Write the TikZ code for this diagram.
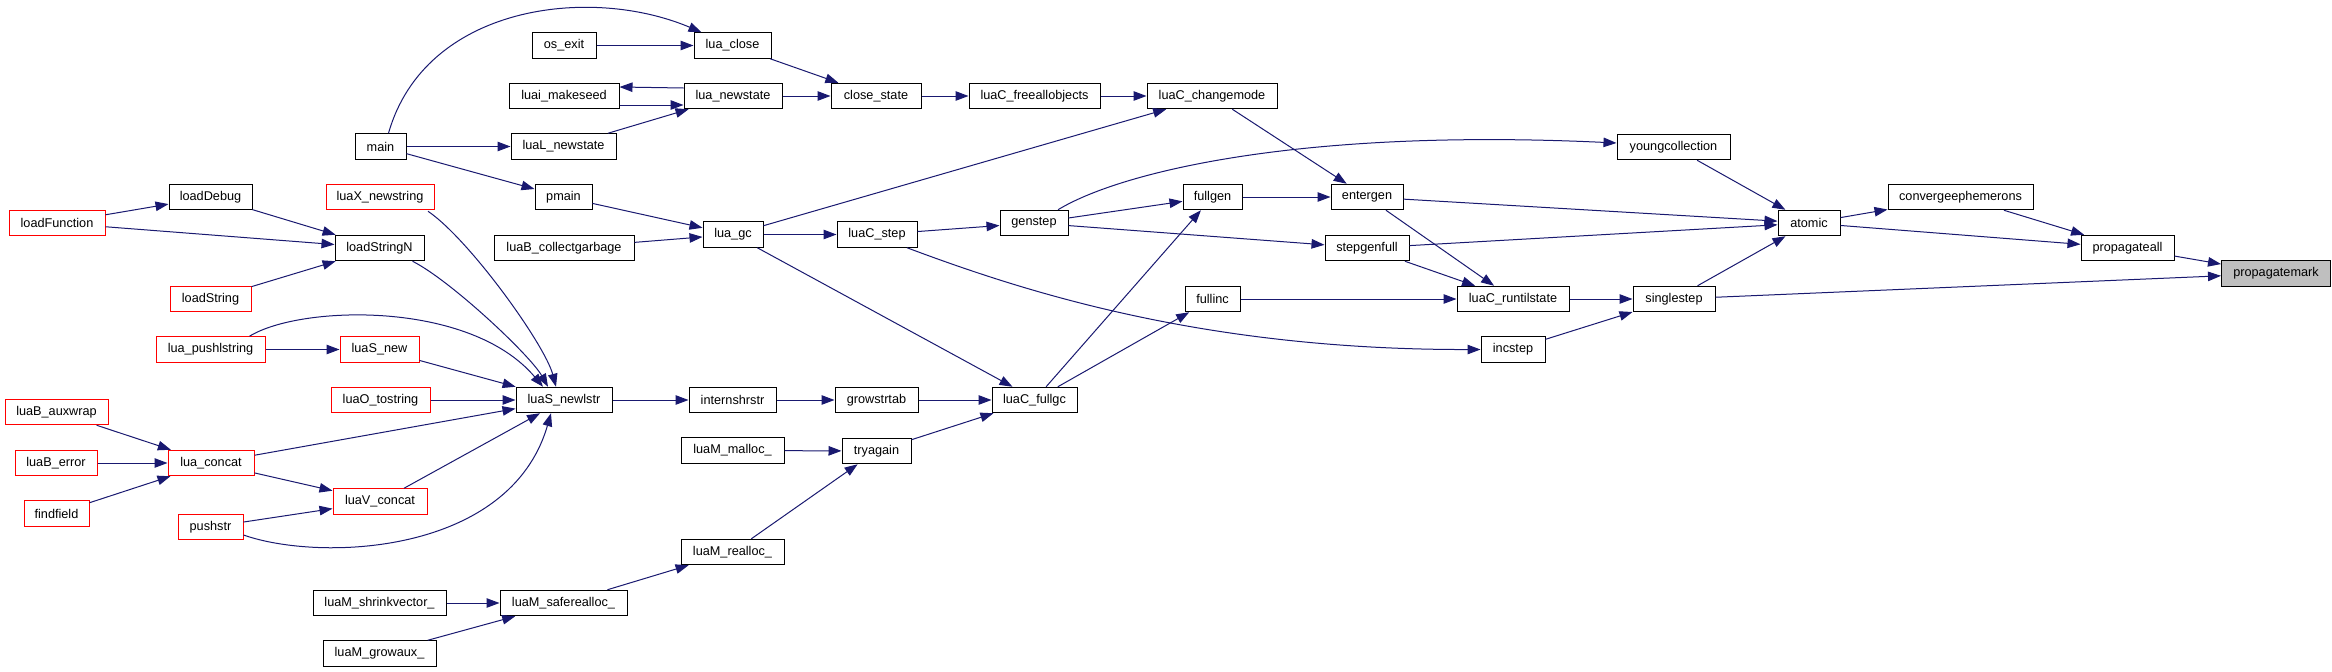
\documentclass[tikz,border=0pt]{standalone}
\usepackage{fontspec}
\setmainfont{Liberation Sans}
\usetikzlibrary{arrows.meta}
\definecolor{edgec}{HTML}{191970}
\definecolor{hl}{HTML}{BFBFBF}
\newcommand\nfs{\fontsize{12.7}{14}\selectfont}
\tikzset{
  nb/.style={draw=black, fill=white, line width=1pt, minimum height=25.5pt, inner sep=0pt, font=\nfs},
  rb/.style={nb, draw=red},
  gb/.style={nb, fill=hl},
  e/.style={draw=edgec, line width=1pt, -{Triangle[length=13pt,width=9.5pt]}},
}
\begin{document}
\begin{tikzpicture}[x=1pt,y=-1pt]
\useasboundingbox[fill=white] (0,0) rectangle (2332,672);
% column 1
\node[rb, minimum width=96pt]  (loadFunction) at (57,223) {loadFunction};
\node[rb, minimum width=103pt] (luaB_auxwrap) at (56.5,412) {luaB\_auxwrap};
\node[rb, minimum width=82pt]  (luaB_error) at (56,463) {luaB\_error};
\node[rb, minimum width=65pt]  (findfield) at (56.5,513.5) {findfield};
% column 2
\node[nb, minimum width=83pt]  (loadDebug) at (210.5,197) {loadDebug};
\node[rb, minimum width=81pt]  (loadString) at (210.5,299) {loadString};
\node[rb, minimum width=109pt] (lua_pushlstring) at (210.5,349.5) {lua\_pushlstring};
\node[rb, minimum width=86pt]  (lua_concat) at (211,463) {lua\_concat};
\node[rb, minimum width=65pt]  (pushstr) at (210.5,527) {pushstr};
% column 3
\node[nb, minimum width=51pt]  (main) at (380.5,146.5) {main};
\node[rb, minimum width=108pt] (luaX_newstring) at (380,197) {luaX\_newstring};
\node[nb, minimum width=89pt]  (loadStringN) at (379.5,248) {loadStringN};
\node[rb, minimum width=79pt]  (luaS_new) at (379.5,349.5) {luaS\_new};
\node[rb, minimum width=99pt]  (luaO_tostring) at (380.5,400) {luaO\_tostring};
\node[rb, minimum width=94pt]  (luaV_concat) at (380,501.5) {luaV\_concat};
\node[nb, minimum width=133pt] (luaM_shrinkvector_) at (379.5,603) {luaM\_shrinkvector\_};
\node[nb, minimum width=113pt] (luaM_growaux_) at (379.5,653.5) {luaM\_growaux\_};
% column 4
\node[nb, minimum width=64pt]  (os_exit) at (564,45.5) {os\_exit};
\node[nb, minimum width=110pt] (luai_makeseed) at (564,96) {luai\_makeseed};
\node[nb, minimum width=105pt] (luaL_newstate) at (563.5,146.5) {luaL\_newstate};
\node[nb, minimum width=57pt]  (pmain) at (563.5,197) {pmain};
\node[nb, minimum width=140pt] (luaB_collectgarbage) at (564,248) {luaB\_collectgarbage};
\node[nb, minimum width=96pt]  (luaS_newlstr) at (564,400) {luaS\_newlstr};
\node[nb, minimum width=127pt] (luaM_saferealloc_) at (563.5,603) {luaM\_saferealloc\_};
% column 5
\node[nb, minimum width=77pt]  (lua_close) at (732.5,45.5) {lua\_close};
\node[nb, minimum width=98pt]  (lua_newstate) at (733,96) {lua\_newstate};
\node[nb, minimum width=60pt]  (lua_gc) at (733,234.5) {lua\_gc};
\node[nb, minimum width=87pt]  (internshrstr) at (732.5,400) {internshrstr};
\node[nb, minimum width=103pt] (luaM_malloc_) at (732.5,450.5) {luaM\_malloc\_};
\node[nb, minimum width=103pt] (luaM_realloc_) at (732.5,552) {luaM\_realloc\_};
% column 6
\node[nb, minimum width=90pt]  (close_state) at (876,96) {close\_state};
\node[nb, minimum width=80pt]  (luaC_step) at (877,234.5) {luaC\_step};
\node[nb, minimum width=83pt]  (growstrtab) at (876.5,400) {growstrtab};
\node[nb, minimum width=69pt]  (tryagain) at (876.5,451) {tryagain};
% column 7
\node[nb, minimum width=131pt] (luaC_freeallobjects) at (1034.5,96) {luaC\_freeallobjects};
\node[nb, minimum width=68pt]  (genstep) at (1034,223) {genstep};
\node[nb, minimum width=85pt]  (luaC_fullgc) at (1034.5,400) {luaC\_fullgc};
% column 8
\node[nb, minimum width=130pt] (luaC_changemode) at (1212,96) {luaC\_changemode};
\node[nb, minimum width=59pt]  (fullgen) at (1212.5,197) {fullgen};
\node[nb, minimum width=55pt]  (fullinc) at (1212.5,299) {fullinc};
% column 9
\node[nb, minimum width=72pt]  (entergen) at (1367,197) {entergen};
\node[nb, minimum width=84pt]  (stepgenfull) at (1367,248) {stepgenfull};
% column 10
\node[nb, minimum width=112pt] (luaC_runtilstate) at (1513,299) {luaC\_runtilstate};
\node[nb, minimum width=64pt]  (incstep) at (1513,349.5) {incstep};
% column 11
\node[nb, minimum width=113pt] (youngcollection) at (1673.5,147) {youngcollection};
\node[nb, minimum width=82pt]  (singlestep) at (1674,299) {singlestep};
% column 12
\node[nb, minimum width=62pt]  (atomic) at (1809,223) {atomic};
% column 13
\node[nb, minimum width=145pt] (convergeephemerons) at (1960.5,197) {convergeephemerons};
% column 14
\node[nb, minimum width=93pt]  (propagateall) at (2127.5,248) {propagateall};
% column 15
\node[gb, minimum width=109pt] (propagatemark) at (2276,273.5) {propagatemark};

% edges
\draw[e] ([xshift=8pt]main.north) .. controls (425,5) and (590,-15) .. ([xshift=-31pt]lua_close.north);
\draw[e] (os_exit) -- (lua_close);
\draw[e] (lua_close) -- (close_state);
\draw[e] ([yshift=8pt]lua_newstate.west) -- ([yshift=9pt]luai_makeseed.east);
\draw[e] ([yshift=-9pt]luai_makeseed.east) -- ([yshift=-9pt]lua_newstate.west);
\draw[e] (luaL_newstate) -- (lua_newstate);
\draw[e] (lua_newstate) -- (close_state);
\draw[e] (close_state) -- (luaC_freeallobjects);
\draw[e] (luaC_freeallobjects) -- (luaC_changemode);
\draw[e] (main) -- (luaL_newstate);
\draw[e] (main) -- (pmain);
\draw[e] (pmain) -- (lua_gc);
\draw[e] (luaB_collectgarbage) -- (lua_gc);
\draw[e] (lua_gc) -- (luaC_changemode);
\draw[e] (lua_gc) -- (luaC_step);
\draw[e] (lua_gc) -- ([xshift=-22pt]luaC_fullgc.north);
\draw[e] (luaC_changemode) -- (entergen);
\draw[e] (luaC_step) -- (genstep);
\draw[e] ([xshift=30pt]luaC_step.south) .. controls (1020,290) and (1200,350) .. (incstep.west);
\draw[e] (genstep) -- (fullgen);
\draw[e] (genstep) -- (stepgenfull);
\draw[e] ([xshift=24pt]genstep.north) .. controls (1120,172) and (1300,128) .. ([yshift=4pt]youngcollection.west);
\draw[e] (fullgen) -- (entergen);
\draw[e] (entergen) -- (atomic);
\draw[e] (entergen) -- (luaC_runtilstate);
\draw[e] (stepgenfull) -- (atomic);
\draw[e] (stepgenfull) -- (luaC_runtilstate);
\draw[e] (luaC_fullgc) -- (fullgen);
\draw[e] (luaC_fullgc) -- (fullinc);
\draw[e] (fullinc) -- (luaC_runtilstate);
\draw[e] (luaC_runtilstate) -- (singlestep);
\draw[e] (incstep) -- (singlestep);
\draw[e] (youngcollection) -- (atomic);
\draw[e] (singlestep) -- (atomic);
\draw[e] (singlestep) -- (propagatemark);
\draw[e] (atomic) -- (convergeephemerons);
\draw[e] (atomic) -- (propagateall);
\draw[e] (convergeephemerons) -- (propagateall);
\draw[e] (propagateall) -- (propagatemark);
% left part
\draw[e] (loadFunction) -- (loadDebug);
\draw[e] (loadFunction) -- (loadStringN);
\draw[e] (loadDebug) -- (loadStringN);
\draw[e] (loadString) -- (loadStringN);
\draw[e] ([xshift=33pt]loadStringN.south) .. controls (450,280) and (530,355) .. ([xshift=-16pt]luaS_newlstr.north);
\draw[e] ([xshift=48pt,yshift=-1pt]luaX_newstring.south) .. controls (470,240) and (545,345) .. ([xshift=-8pt]luaS_newlstr.north);
\draw[e] ([xshift=39pt]lua_pushlstring.north) .. controls (300,305) and (470,300) .. ([xshift=-21pt]luaS_newlstr.north);
\draw[e] (lua_pushlstring) -- (luaS_new);
\draw[e] (luaS_new) -- (luaS_newlstr);
\draw[e] (luaO_tostring) -- (luaS_newlstr);
\draw[e] (lua_concat) -- (luaS_newlstr);
\draw[e] (lua_concat) -- (luaV_concat);
\draw[e] (luaV_concat) -- (luaS_newlstr);
\draw[e] (pushstr) -- (luaV_concat);
\draw[e] ([yshift=-8pt]pushstr.east) .. controls (320,562) and (510,555) .. ([xshift=-13pt]luaS_newlstr.south);
\draw[e] (luaB_auxwrap) -- (lua_concat);
\draw[e] (luaB_error) -- (lua_concat);
\draw[e] (findfield) -- (lua_concat);
\draw[e] (luaS_newlstr) -- (internshrstr);
\draw[e] (internshrstr) -- (growstrtab);
\draw[e] (growstrtab) -- (luaC_fullgc);
\draw[e] (luaM_malloc_) -- (tryagain);
\draw[e] (tryagain) -- (luaC_fullgc);
\draw[e] (luaM_realloc_) -- (tryagain);
\draw[e] (luaM_saferealloc_) -- (luaM_realloc_);
\draw[e] (luaM_shrinkvector_) -- (luaM_saferealloc_);
\draw[e] (luaM_growaux_) -- (luaM_saferealloc_);
\end{tikzpicture}
\end{document}
